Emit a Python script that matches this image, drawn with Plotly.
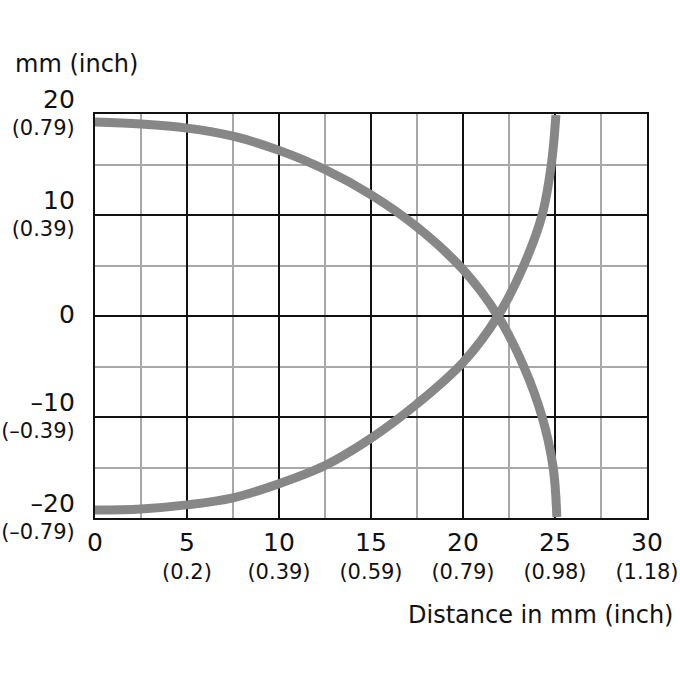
import plotly.graph_objects as go

# Data (mm)
curve_a_x = [0, 2.5, 5, 7.5, 10, 12.5, 15, 17.5, 20, 21.9, 23.3, 24.3, 24.9, 25.1]
curve_a_y = [19.2, 19.0, 18.6, 17.8, 16.4, 14.5, 12.0, 8.8, 4.6, 0, -5, -10, -15, -19.9]
curve_b_x = [0, 2.5, 5, 7.5, 10, 12.5, 15, 17.5, 20, 21.9, 23.3, 24.3, 24.8, 25.05]
curve_b_y = [-19.2, -19.1, -18.7, -18.0, -16.6, -14.8, -12.1, -8.7, -4.6, 0, 5, 10, 15, 19.9]

x_tick_vals = [0, 5, 10, 15, 20, 25, 30]
x_tick_inch = ["", "(0.2)", "(0.39)", "(0.59)", "(0.79)", "(0.98)", "(1.18)"]
y_tick_vals = [20, 10, 0, -10, -20]
y_tick_mm = ["20", "10", "0", "\u201310", "\u201320"]
y_tick_inch = ["(0.79)", "(0.39)", "", "(\u20130.39)", "(\u20130.79)"]

x_minor = [2.5, 7.5, 12.5, 17.5, 22.5, 27.5]
y_minor = [15, 5, -5, -15]

def lab(main, sub):
    m = f"<span style='font-size:25px'>{main}</span>"
    if sub:
        return f"{m}<br>{sub}"
    return m

x_text = [lab(str(v), s) for v, s in zip(x_tick_vals, x_tick_inch)]
y_text = [lab(m, s) for m, s in zip(y_tick_mm, y_tick_inch)]

line_color = "#878787"
fig = go.Figure()
for xs, ys in [(curve_a_x, curve_a_y), (curve_b_x, curve_b_y)]:
    fig.add_trace(go.Scatter(x=xs, y=ys, mode="lines",
                             line=dict(color=line_color, width=9, shape="spline"),
                             cliponaxis=False, showlegend=False, hoverinfo="skip"))

tick_font = dict(family="DejaVu Sans", size=21, color="#111111")
fig.update_layout(
    width=680, height=680,
    margin=dict(l=95, r=33, t=114, b=162),
    paper_bgcolor="white", plot_bgcolor="white",
    font=dict(family="DejaVu Sans", size=21, color="#111111"),
    xaxis=dict(range=[0, 30], tickmode="array", tickvals=x_tick_vals, ticktext=x_text,
               tickfont=tick_font, automargin=False, ticklabeloverflow="allow",
               showgrid=True, gridcolor="#111111", gridwidth=2,
               showline=True, linecolor="#111111", linewidth=2, mirror=True,
               ticks="", ticklabelstandoff=6, zeroline=False,
               minor=dict(tickmode="array", tickvals=x_minor, showgrid=True,
                          gridcolor="#a8a8a8", gridwidth=2, ticks="")),
    yaxis=dict(range=[-20, 20], tickmode="array", tickvals=y_tick_vals, ticktext=y_text,
               tickfont=tick_font, automargin=False, ticklabeloverflow="allow",
               showgrid=True, gridcolor="#111111", gridwidth=2,
               showline=True, linecolor="#111111", linewidth=2, mirror=True,
               ticks="", ticklabelstandoff=14, zeroline=False,
               minor=dict(tickmode="array", tickvals=y_minor, showgrid=True,
                          gridcolor="#a8a8a8", gridwidth=2, ticks="")),
    annotations=[
        dict(text="mm (inch)", xref="paper", yref="paper", x=0, y=1,
             xanchor="left", yanchor="middle", xshift=-82, yshift=50,
             showarrow=False, font=dict(family="DejaVu Sans", size=24, color="#111111")),
        dict(text="Distance in mm (inch)", xref="paper", yref="paper", x=1, y=0,
             xanchor="right", yanchor="middle", xshift=28, yshift=-97,
             showarrow=False, font=dict(family="DejaVu Sans", size=24, color="#111111")),
    ],
)

fig.write_html("out.html")
